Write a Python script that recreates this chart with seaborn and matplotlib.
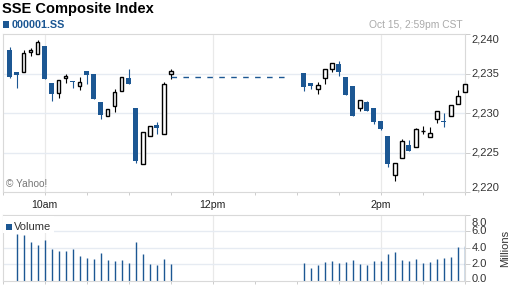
import numpy as np
import pandas as pd
import matplotlib
matplotlib.use("Agg")
import matplotlib.pyplot as plt
from matplotlib.patches import Rectangle
from matplotlib.transforms import blended_transform_factory
import seaborn as sns

# ---------------- data ----------------
am_times = pd.date_range("2013-10-15 09:35", periods=24, freq="5min")
pm_times = pd.date_range("2013-10-15 13:05", periods=24, freq="5min")

am_open = [2238.00, 2235.23, 2235.19, 2237.72, 2237.47, 2238.52, 2233.80, 2232.53,
           2234.43, 2234.00, 2233.49, 2235.35, 2234.97, 2231.43, 2229.70, 2230.89,
           2232.78, 2234.47, 2230.67, 2223.54, 2227.09, 2228.52, 2227.34, 2235.01]
am_high = [2238.43, 2235.25, 2238.00, 2238.27, 2239.28, 2238.52, 2233.80, 2234.18,
           2235.01, 2234.05, 2234.60, 2235.35, 2234.97, 2231.43, 2230.54, 2233.08,
           2234.56, 2235.65, 2230.67, 2227.59, 2228.39, 2228.86, 2234.00, 2235.57]
am_low = [2234.50, 2233.16, 2235.19, 2237.20, 2237.47, 2234.38, 2231.60, 2231.90,
          2233.80, 2233.16, 2232.95, 2233.75, 2231.85, 2229.28, 2229.60, 2230.20,
          2232.78, 2233.75, 2223.75, 2223.54, 2227.09, 2227.34, 2227.34, 2234.30]
am_close = [2234.63, 2234.89, 2237.59, 2238.01, 2238.99, 2234.38, 2232.48, 2234.18,
            2234.76, 2233.95, 2233.92, 2234.89, 2231.85, 2229.82, 2230.54, 2232.66,
            2234.56, 2233.75, 2224.00, 2227.59, 2228.39, 2228.10, 2233.71, 2235.35]

pm_open = [2235.06, 2233.80, 2233.08, 2234.43, 2235.57, 2236.24, 2234.56, 2233.46,
           2230.63, 2231.43, 2230.67, 2229.03, 2227.16, 2222.19, 2224.30, 2225.99,
           2225.70, 2227.75, 2226.96, 2229.24, 2229.00, 2229.62, 2231.14, 2232.66]
pm_high = [2235.06, 2233.80, 2233.92, 2235.67, 2236.33, 2236.62, 2234.56, 2233.46,
           2231.68, 2231.50, 2230.67, 2229.03, 2227.16, 2223.67, 2226.75, 2226.62,
           2228.10, 2228.39, 2228.30, 2230.25, 2230.00, 2231.10, 2232.95, 2234.09]
pm_low = [2232.86, 2233.04, 2232.48, 2233.75, 2235.27, 2234.76, 2232.35, 2229.70,
          2230.33, 2230.33, 2228.61, 2227.90, 2223.24, 2221.47, 2224.30, 2225.27,
          2225.70, 2227.34, 2226.96, 2228.73, 2228.30, 2229.62, 2231.14, 2232.66]
pm_close = [2233.37, 2233.49, 2233.58, 2235.57, 2236.33, 2235.27, 2232.35, 2229.70,
            2231.68, 2230.33, 2228.94, 2227.97, 2223.54, 2223.67, 2226.49, 2225.27,
            2227.97, 2227.82, 2227.47, 2230.25, 2228.90, 2231.01, 2232.19, 2233.67]

am_volume = [np.nan, 5.72, 5.60, 4.71, 4.34, 4.95, 3.86, 3.61, 3.61, 3.86, 3.00, 2.76,
             2.64, 3.41, 2.52, 2.40, 2.52, 2.19, 4.71, 3.25, 2.03, 1.91, 2.64, 2.03]
pm_volume = [2.19, 1.54, 1.95, 2.31, 2.44, 2.19, 2.31, 2.56, 2.07, 1.95, 2.44, 2.44,
             3.29, 3.49, 2.56, 2.44, 2.68, 2.19, 2.31, 2.68, 2.80, 2.92, 4.10, 4.26]

lunch_level = 2234.56
lunch_start, lunch_end = "11:30", "12:55"

price_ticks = [2220, 2225, 2230, 2235, 2240]
price_labels = ["2,220", "2,225", "2,230", "2,235", "2,240"]
vol_ticks = [0, 2, 4, 6, 8]
vol_labels = ["0.0", "2.0", "4.0", "6.0", "8.0"]
time_ticks = [10, 12, 14]
time_labels = ["10am", "12pm", "2pm"]

title = "SSE Composite Index"
symbol = "000001.SS"
stamp = "Oct 15, 2:59pm CST"

# ---------------- frame ----------------
def hours(ts):
    return ts.hour + ts.minute / 60.0

df = pd.DataFrame({
    "t": np.concatenate([hours(am_times), hours(pm_times)]),
    "open": am_open + pm_open, "high": am_high + pm_high,
    "low": am_low + pm_low, "close": am_close + pm_close,
    "volume": am_volume + pm_volume,
})
df["up"] = df["close"] >= df["open"]

def hstr(s):
    h, m = s.split(":")
    return int(h) + int(m) / 60.0

lunch = pd.DataFrame({"t": [hstr(lunch_start), hstr(lunch_end)],
                      "v": [lunch_level, lunch_level]})

# ---------------- style ----------------
sns.set_theme(style="white")
plt.rcParams["font.family"] = ["Liberation Sans", "DejaVu Sans"]

BLUE = "#1c5793"
GRID_H = "#e6ebf2"
GRID_V = "#e9e9e9"
SPINE = "#d9d9d9"
TXT = "#333333"

W, H = 512, 288
fig = plt.figure(figsize=(W / 100, H / 100), dpi=100)
fig.patch.set_facecolor("white")

def axbox(x0, y0, x1, y1):
    return [x0 / W, 1 - y1 / H, (x1 - x0) / W, (y1 - y0) / H]

ax = fig.add_axes(axbox(2.5, 34.3, 465, 192.3))
axv = fig.add_axes(axbox(2.5, 215, 465, 280.7))

XMIN, XMAX = 9.5, 15.0
px_per_h = (465 - 2.5) / (XMAX - XMIN)

for a in (ax, axv):
    a.set_xlim(XMIN, XMAX)
    a.set_facecolor("white")
    for s in a.spines.values():
        s.set_color(SPINE)
        s.set_linewidth(0.8)
    for t in time_ticks:
        a.axvline(t, color=GRID_V, lw=0.9, zorder=0)
    a.set_xticks(np.arange(XMIN, XMAX + 0.01, 0.5))
    a.tick_params(axis="x", bottom=True, length=1.8, width=0.7, color="#cccccc",
                  direction="out", labelbottom=False)
    a.yaxis.tick_right()
    a.tick_params(axis="y", right=True, left=False, length=3.4, width=0.7,
                  color="#cccccc", direction="out", labelright=False, labelleft=False)
    a.set_xlabel("")
    a.set_ylabel("")

# ---------------- price panel ----------------
ax.set_ylim(price_ticks[0], price_ticks[-1])
ax.set_yticks(price_ticks)
for v in price_ticks[1:-1]:
    ax.axhline(v, color=GRID_H, lw=1.0, zorder=0)

w_fill = 5.0 / px_per_h
w_hollow = 3.7 / px_per_h
min_h = 0.16

up = df[df["up"]]
dn = df[~df["up"]]
ax.vlines(up["t"], up["low"], up["high"], color="black", lw=0.8, zorder=2, clip_on=False)
ax.vlines(dn["t"], dn["low"], dn["high"], color=BLUE, lw=0.8, zorder=2, clip_on=False)
ax.bar(up["t"], np.maximum((up["close"] - up["open"]).abs(), 0.05), width=w_hollow,
       bottom=np.minimum(up["open"], up["close"]), facecolor="white",
       edgecolor="black", linewidth=1.0, zorder=3, clip_on=False)
ax.bar(dn["t"], np.maximum((dn["open"] - dn["close"]).abs(), min_h), width=w_fill,
       bottom=np.minimum(dn["open"], dn["close"]), color=BLUE, linewidth=0, zorder=3,
       clip_on=False)

sns.lineplot(data=lunch, x="t", y="v", ax=ax, color=BLUE, lw=1.0, zorder=2)
ax.lines[-1].set_dashes((4.0, 4.6))
ax.set_xlabel("")
ax.set_ylabel("")
ax.set_xlim(XMIN, XMAX)
ax.set_ylim(price_ticks[0], price_ticks[-1])

ytr = blended_transform_factory(ax.transAxes, ax.transData)
lab_x = (471.5 - 2.5) / (465 - 2.5)
for v, s in zip(price_ticks, price_labels):
    va = "center"
    if v == price_ticks[-1]:
        va = "top"
    elif v == price_ticks[0]:
        va = "bottom"
    ax.text(lab_x, v, s, transform=ytr, ha="left", va=va, fontsize=8, color=TXT)

xtr = blended_transform_factory(ax.transData, ax.transAxes)
for t, s in zip(time_ticks, time_labels):
    ax.text(t, (192.3 - 204.5) / 158.0, s, transform=xtr, ha="center", va="center",
            fontsize=7.6, color="#222222")

ax.text(3.5 / 462.5 - 0.0, (192.3 - 184) / 158.0, "© Yahoo!", transform=ax.transAxes,
        ha="left", va="center", fontsize=7.3, color="#777777")

# ---------------- volume panel ----------------
axv.set_ylim(vol_ticks[0], vol_ticks[-1])
axv.set_yticks(vol_ticks)
for v in vol_ticks[1:-1]:
    axv.axhline(v, color=GRID_H, lw=1.0, zorder=0)
vd = df.dropna(subset=["volume"])
axv.vlines(vd["t"], 0, vd["volume"], color=BLUE, lw=1.0, zorder=2)

ytrv = blended_transform_factory(axv.transAxes, axv.transData)
for v, s in zip(vol_ticks, vol_labels):
    off = 0.0
    if v == vol_ticks[-1]:
        off = -0.95
    elif v == vol_ticks[0]:
        off = 0.2
    axv.text(lab_x, v + off, s, transform=ytrv, ha="left", va="center",
             fontsize=8, color=TXT)

fig.text(505 / W, 1 - 248 / H, "Millions", rotation=90, ha="center", va="center",
         fontsize=8, color=TXT)

# legend box for volume
axv.add_patch(Rectangle((0.0, (280.7 - 233) / 65.7), (54 - 2.5) / 462.5,
                        (233 - 216) / 65.7, transform=axv.transAxes,
                        facecolor="white", edgecolor="none", zorder=3))
fig.patches.append(Rectangle((6 / W, 1 - 229.5 / H), 5.5 / W, 5.5 / H,
                             transform=fig.transFigure, facecolor=BLUE,
                             edgecolor="none", zorder=5))
fig.text(13.5 / W, 1 - 226.5 / H, "Volume", ha="left", va="center", fontsize=8,
         color=TXT, zorder=6)

# ---------------- header ----------------
fig.text(1.5 / W, 1 - 8.5 / H, title, ha="left", va="center", fontsize=10.5,
         fontweight="bold", color="black")
fig.patches.append(Rectangle((2.7 / W, 1 - 27.7 / H), 6.6 / W, 6.6 / H,
                             transform=fig.transFigure, facecolor=BLUE,
                             edgecolor="none"))
fig.text(11.5 / W, 1 - 24.5 / H, symbol, ha="left", va="center", fontsize=7.8,
         fontweight="bold", color=BLUE)
fig.text(462.5 / W, 1 - 24.5 / H, stamp, ha="right", va="center", fontsize=7.4,
         color="#aaaaaa")

fig.savefig("out.png", dpi=100, facecolor="white")
